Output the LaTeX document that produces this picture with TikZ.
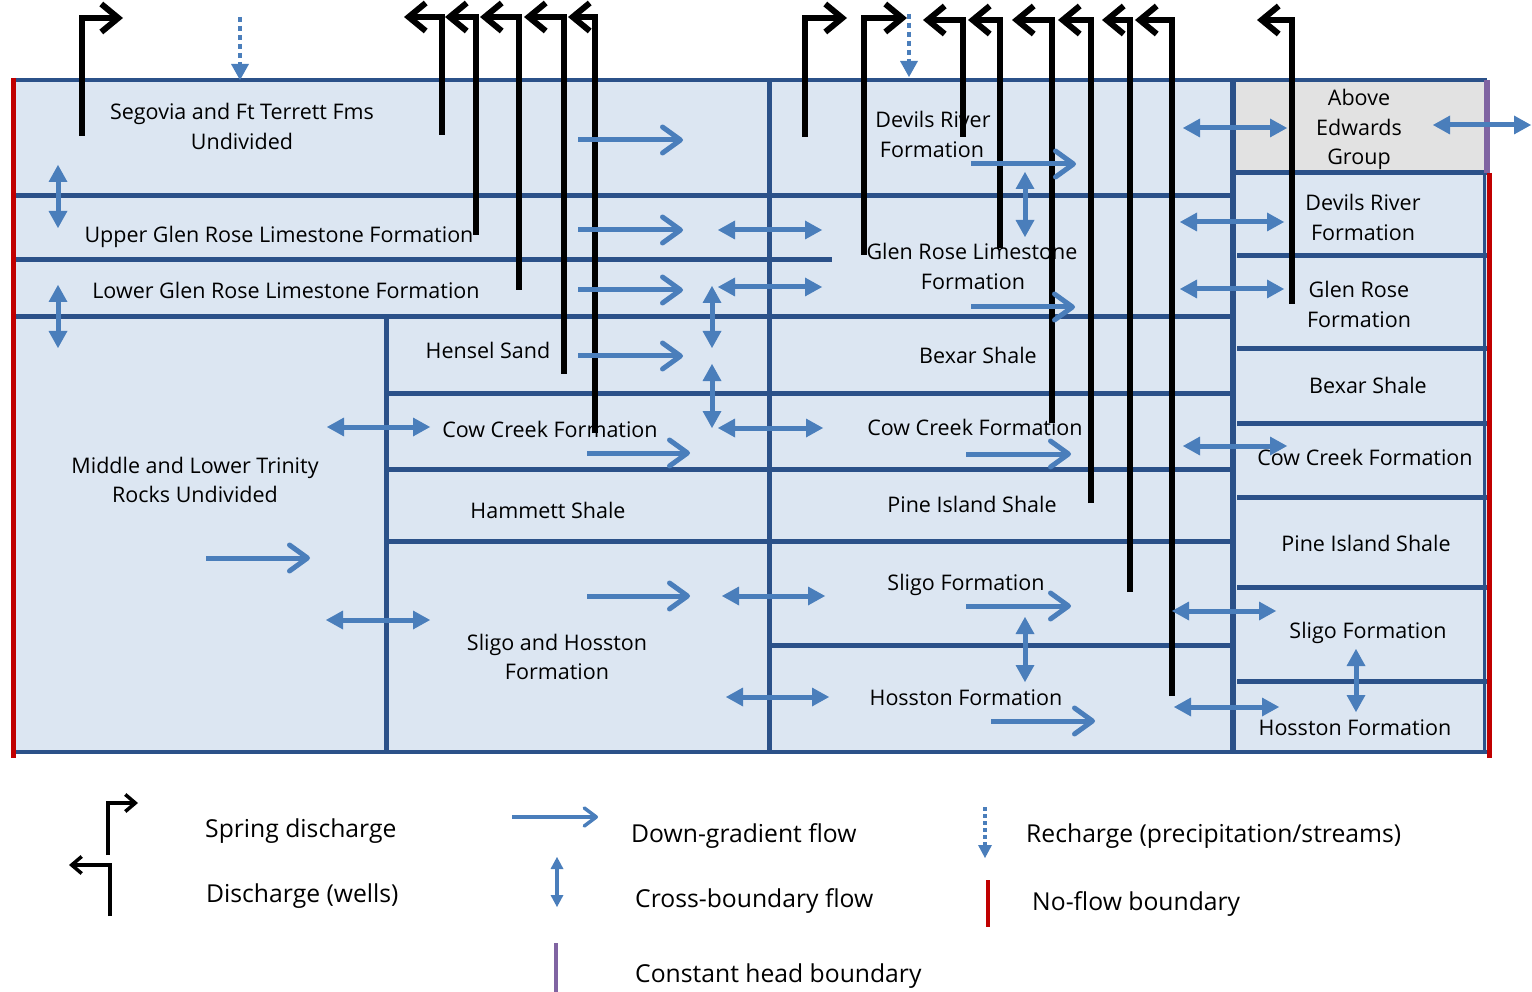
\documentclass[tikz,border=0pt]{standalone}
\usepackage{fontspec}
\setmainfont{Open Sans}
\usetikzlibrary{arrows.meta}
\definecolor{fillblue}{HTML}{DCE6F2}
\definecolor{strokeblue}{HTML}{2B5189}
\definecolor{flowblue}{HTML}{4A7EBB}
\definecolor{noflow}{HTML}{C00000}
\definecolor{chead}{HTML}{8064A2}
\definecolor{rockgray}{HTML}{E2E2E2}
\begin{document}
\begin{tikzpicture}[x=1pt,y=-1pt,
  layerline/.style={draw=strokeblue,line width=5pt},
  dgflow/.style={draw=flowblue,line width=5pt,-{Straight Barb[length=18pt,width=26pt,round]}},
  xflow/.style={draw=flowblue,line width=5pt,{Triangle[length=17pt,width=19pt,line width=0pt]}-{Triangle[length=17pt,width=19pt,line width=0pt]}},
  rechg/.style={draw=flowblue,line width=4.5pt,dash pattern=on 5pt off 4pt,-{Triangle[length=16pt,width=18pt,line width=0pt]}},
  wellline/.style={draw=black,line width=6pt,-{Straight Barb[length=17pt,width=28pt]}},
  lbl/.style={font=\fontsize{21.5}{26}\selectfont,anchor=base,inner sep=0pt},
  leg/.style={font=\fontsize{24.7}{29}\selectfont,anchor=base west,inner sep=0pt},
]
\useasboundingbox (0,0) rectangle (1532,992);

% ---------- fills ----------
\fill[fillblue] (12,80) rectangle (1487,752);
\fill[rockgray] (1233,80) rectangle (1487,173);

% ---------- layer boundaries ----------
\draw[layerline,line width=4.5pt] (12,80) -- (1487,80);
\draw[layerline,line width=4.5pt] (12,752) -- (1490,752);
\draw[layerline] (12,196) -- (1232,196);
\draw[layerline] (12,260) -- (832,260);
\draw[layerline] (12,317) -- (1232,317);
\draw[layerline] (386,393) -- (1232,393);
\draw[layerline] (386,469) -- (1232,469);
\draw[layerline] (386,541) -- (1232,541);
\draw[layerline] (769,645) -- (1232,645);
\draw[layerline] (386,317) -- (386,752);
\draw[layerline] (769,80) -- (769,752);
\draw[layerline,line width=6pt] (1233,80) -- (1233,752);
\draw[layerline] (1233,173) -- (1487,173);
\draw[layerline] (1237,256) -- (1487,256);
\draw[layerline] (1237,349) -- (1490,349);
\draw[layerline] (1237,423) -- (1490,423);
\draw[layerline] (1237,497) -- (1490,497);
\draw[layerline] (1237,587) -- (1490,587);
\draw[layerline] (1237,681) -- (1487,681);
\draw[layerline,line width=3pt] (1484,173) -- (1484,752);

% ---------- model boundaries ----------
\draw[noflow,line width=5pt] (13,78) -- (13,758);
\draw[noflow,line width=5pt] (1489,173) -- (1489,758);
\draw[chead,line width=6pt] (1487,80) -- (1487,173);

% ---------- unit labels ----------
\node[lbl] (segovia1) at (242,120) {Segovia and Ft Terrett Fms};
\node[lbl] (segovia2) at (242,150) {Undivided};
\node[lbl] (uglen) at (279,243) {Upper Glen Rose Limestone Formation};
\node[lbl] (lglen) at (286,299) {Lower Glen Rose Limestone Formation};
\node[lbl] (mlt1) at (195,473) {Middle and Lower Trinity};
\node[lbl] (mlt2) at (195,502) {Rocks Undivided};
\node[lbl] (hensel) at (488,359) {Hensel Sand};
\node[lbl] (cowA) at (550,437) {Cow Creek Formation};
\node[lbl] (hammett) at (548,518) {Hammett Shale};
\node[lbl] (shA1) at (557,650) {Sligo and Hosston};
\node[lbl] (shA2) at (557,679) {Formation};
\node[lbl] (drB1) at (933,128) {Devils River};
\node[lbl] (drB2) at (932,158) {Formation};
\node[lbl] (grB1) at (972,260) {Glen Rose Limestone};
\node[lbl] (grB2) at (973,290) {Formation};
\node[lbl] (bexB) at (978,363) {Bexar Shale};
\node[lbl] (cowB) at (975,435) {Cow Creek Formation};
\node[lbl] (pineB) at (972,512) {Pine Island Shale};
\node[lbl] (sligoB) at (966,590) {Sligo Formation};
\node[lbl] (hosB) at (966,705) {Hosston Formation};
\node[lbl] (ae1) at (1359,106) {Above};
\node[lbl] (ae2) at (1359,136) {Edwards};
\node[lbl] (ae3) at (1359,165) {Group};
\node[lbl] (drC1) at (1363,211) {Devils River};
\node[lbl] (drC2) at (1363,241) {Formation};
\node[lbl] (grC1) at (1359,298) {Glen Rose};
\node[lbl] (grC2) at (1359,328) {Formation};
\node[lbl] (bexC) at (1368,393) {Bexar Shale};
\node[lbl] (cowC) at (1365,465) {Cow Creek Formation};
\node[lbl] (pineC) at (1366,551) {Pine Island Shale};
\node[lbl] (sligoC) at (1368,638) {Sligo Formation};
\node[lbl] (hosC) at (1355,735) {Hosston Formation};

% ---------- springs and wells ----------
\draw[wellline] (82,136) -- (82,18) -- (123,18);
\draw[wellline] (805,137) -- (805,18) -- (847,18);
\draw[wellline] (864,255) -- (864,18) -- (907,18);
\draw[wellline] (442,135) -- (442,17) -- (404,17);
\draw[wellline] (476,235) -- (476,17) -- (445,17);
\draw[wellline] (519,290) -- (519,17) -- (480,17);
\draw[wellline] (564,374) -- (564,17) -- (524,17);
\draw[wellline] (595,433) -- (595,17) -- (568,17);
\draw[wellline] (963,137) -- (963,20) -- (923,20);
\draw[wellline] (1000,248) -- (1000,20) -- (968,20);
\draw[wellline] (1052,423) -- (1052,20) -- (1012,20);
\draw[wellline] (1091,503) -- (1091,20) -- (1058,20);
\draw[wellline] (1130,592) -- (1130,20) -- (1102,20);
\draw[wellline] (1172,696) -- (1172,20) -- (1135,20);
\draw[wellline] (1292,304) -- (1292,20) -- (1257,20);

% ---------- recharge ----------
\draw[rechg] (240,17) -- (240,80);
\draw[rechg] (909,14) -- (909,77);

% ---------- down-gradient flow ----------
\draw[dgflow] (578,140) -- (683,140);
\draw[dgflow] (578,230) -- (683,230);
\draw[dgflow] (578,290) -- (683,290);
\draw[dgflow] (578,356) -- (683,356);
\draw[dgflow] (587,453) -- (690,453);
\draw[dgflow] (587,596) -- (690,596);
\draw[dgflow] (206,558) -- (310,558);
\draw[dgflow] (971,164) -- (1076,164);
\draw[dgflow] (971,307) -- (1075,307);
\draw[dgflow] (966,454) -- (1071,454);
\draw[dgflow] (966,606) -- (1071,606);
\draw[dgflow] (991,721) -- (1095,721);

% ---------- cross-boundary flow ----------
\draw[xflow] (718,230) -- (822,230);
\draw[xflow] (718,287) -- (822,287);
\draw[xflow] (718,428) -- (823,428);
\draw[xflow] (722,596) -- (825,596);
\draw[xflow] (726,697) -- (829,697);
\draw[xflow] (327,427) -- (430,427);
\draw[xflow] (326,620) -- (430,620);
\draw[xflow] (1183,128) -- (1287,128);
\draw[xflow] (1180,222) -- (1284,222);
\draw[xflow] (1180,289) -- (1284,289);
\draw[xflow] (1183,446) -- (1287,446);
\draw[xflow] (1172,611) -- (1276,611);
\draw[xflow] (1174,707) -- (1279,707);
\draw[xflow] (1433,125) -- (1531,125);
\draw[xflow] (58,165) -- (58,228);
\draw[xflow] (58,285) -- (58,348);
\draw[xflow] (712,286) -- (712,348);
\draw[xflow] (712,364) -- (712,428);
\draw[xflow] (1025,172) -- (1025,237);
\draw[xflow] (1025,617) -- (1025,682);
\draw[xflow] (1356,649) -- (1356,712);

% ---------- legend ----------
\draw[wellline,line width=3.5pt,-{Straight Barb[length=10pt,width=17pt]}] (108,855) -- (108,803) -- (138,803);
\draw[wellline,line width=3.5pt,-{Straight Barb[length=10pt,width=17pt]}] (110,916) -- (110,865) -- (69,865);
\node[leg] (lgspring) at (205,837) {Spring discharge};
\node[leg] (lgwell) at (206,902) {Discharge (wells)};
\draw[draw=flowblue,line width=3.5pt,-{Straight Barb[length=12pt,width=18pt,round]}] (512,817) -- (598,817);
\node[leg] (lgdown) at (631,842) {Down-gradient flow};
\draw[draw=flowblue,line width=3.5pt,{Triangle[length=12pt,width=13pt,line width=0pt]}-{Triangle[length=12pt,width=13pt,line width=0pt]}] (557,857) -- (557,907);
\node[leg] (lgcross) at (635,907) {Cross-boundary flow};
\draw[chead,line width=4pt] (556,943) -- (556,992);
\node[leg] (lgconst) at (635,982) {Constant head boundary};
\draw[draw=flowblue,line width=3.5pt,dash pattern=on 4pt off 3pt,-{Triangle[length=13pt,width=14pt,line width=0pt]}] (985,807) -- (985,858);
\node[leg] (lgrech) at (1026,842) {Recharge (precipitation/streams)};
\draw[noflow,line width=4pt] (988,880) -- (988,927);
\node[leg] (lgnoflow) at (1032,910) {No-flow boundary};
\end{tikzpicture}
\end{document}
